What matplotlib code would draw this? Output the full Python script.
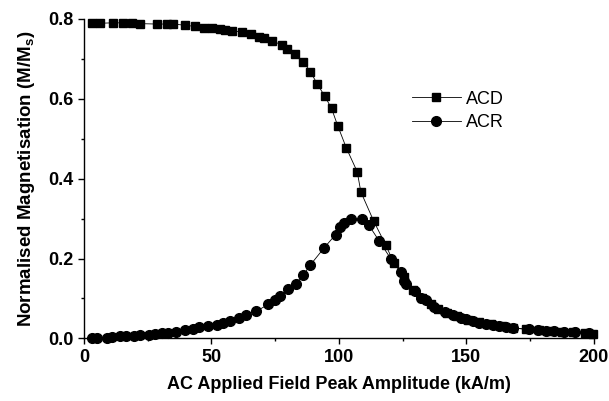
import matplotlib
matplotlib.use("Agg")
import matplotlib.pyplot as plt

plt.rcParams['font.family'] = ['Liberation Sans', 'DejaVu Sans']
plt.rcParams['mathtext.fontset'] = 'custom'
plt.rcParams['mathtext.rm'] = 'Liberation Sans'
plt.rcParams['mathtext.bf'] = 'Liberation Sans:bold'

# ACD series (squares)
acd_x = [3.0, 6.3, 11.2, 15.4, 18.7, 21.9, 28.5, 32.4, 35.0, 39.6, 43.5, 47.0, 50.3, 53.3,
         55.5, 58.1, 61.8, 65.7, 68.5, 70.8, 73.6, 77.6, 79.5, 82.6, 86.0, 88.8, 91.5, 94.4,
         97.1, 99.5, 102.9, 107.2, 108.6, 113.7, 118.3,
         121.5, 125.5, 129.0, 132.5, 136.0, 139.0, 142.5, 146.5, 150.5, 155.0, 159.5, 164.0,
         168.5, 173.5, 178.5, 183.0, 187.5, 192.0, 196.5, 199.5]
acd_y = [0.789, 0.789, 0.790, 0.790, 0.789, 0.788, 0.787, 0.787, 0.787, 0.784, 0.781, 0.778,
         0.776, 0.774, 0.772, 0.770, 0.767, 0.762, 0.755, 0.751, 0.745, 0.735, 0.724, 0.711,
         0.693, 0.668, 0.637, 0.607, 0.576, 0.533, 0.477, 0.417, 0.367, 0.293, 0.235,
         0.190, 0.155, 0.122, 0.100, 0.085, 0.074, 0.064, 0.055, 0.047, 0.040, 0.035, 0.030,
         0.026, 0.023, 0.020, 0.018, 0.016, 0.015, 0.013, 0.012]

# ACR series (circles)
acr_x = [3.0, 5.2, 8.9, 10.8, 14.1, 16.5, 19.6, 21.9, 25.6, 27.8, 30.4, 33.0, 36.0, 39.6,
         42.6, 45.2, 48.7, 52.0, 54.6, 57.2, 60.8, 63.5, 67.6, 72.2, 74.8, 76.8, 80.0, 83.0,
         85.9, 88.8, 94.1, 98.7, 100.5, 102.0, 104.6, 109.0, 111.8, 115.9, 120.3, 124.4,
         125.7, 126.4, 129.7, 132.3, 134.0, 137.5, 141.8, 144.7, 147.9, 149.9, 152.5, 155.1,
         157.7, 160.3, 162.9, 165.6, 168.2, 174.7, 178.0, 181.2, 184.5, 188.4, 192.7, 198.2]
acr_y = [0.0, 0.0, 0.002, 0.003, 0.005, 0.006, 0.007, 0.008, 0.009, 0.011, 0.013, 0.014,
         0.016, 0.020, 0.023, 0.028, 0.031, 0.034, 0.038, 0.043, 0.051, 0.059, 0.068, 0.085,
         0.095, 0.107, 0.124, 0.137, 0.158, 0.184, 0.226, 0.260, 0.279, 0.289, 0.298, 0.298,
         0.283, 0.243, 0.200, 0.166, 0.145, 0.137, 0.118, 0.100, 0.095, 0.079, 0.066, 0.058,
         0.052, 0.048, 0.044, 0.039, 0.037, 0.034, 0.031, 0.028, 0.026, 0.023, 0.020, 0.018,
         0.018, 0.016, 0.015, 0.013]

fig = plt.figure(figsize=(6.09, 4.01), dpi=100)
ax = fig.add_axes([0.138, 0.156, 0.837, 0.797])

ax.plot(acd_x, acd_y, color='black', lw=0.6, marker='s', ms=5.5, clip_on=False, label='ACD')
ax.plot(acr_x, acr_y, color='black', lw=0.6, marker='o', ms=7, clip_on=False, label='ACR')

ax.set_xlim(0, 200)
ax.set_ylim(0, 0.8)
ax.set_xticks([0, 50, 100, 150, 200])
ax.set_xticks([25, 75, 125, 175], minor=True)
ax.set_yticks([0.0, 0.2, 0.4, 0.6, 0.8])
ax.set_yticks([0.1, 0.3, 0.5, 0.7], minor=True)
ax.set_yticklabels(['0.0', '0.2', '0.4', '0.6', '0.8'])

for s in ['top', 'right']:
    ax.spines[s].set_visible(False)
for s in ['left', 'bottom']:
    ax.spines[s].set_linewidth(1.0)
ax.tick_params(which='major', direction='out', length=4, width=1.0, labelsize=13)
ax.tick_params(which='minor', direction='out', length=2.5, width=1.0)
for t in ax.get_xticklabels() + ax.get_yticklabels():
    t.set_fontweight('bold')

ax.set_xlabel('AC Applied Field Peak Amplitude (kA/m)', fontsize=13, fontweight='bold')
ax.set_ylabel(r'Normalised Magnetisation (M/M$_\mathbf{s}$)', fontsize=13.5, fontweight='bold')
ax.xaxis.set_label_coords(0.5, -0.118)
ax.yaxis.set_label_coords(-0.092, 0.5)

ax.legend(loc='upper left', bbox_to_anchor=(0.643, 0.775), frameon=False, fontsize=13,
          handlelength=2.7, handletextpad=0.3, labelspacing=0.35, borderpad=0, borderaxespad=0)

fig.savefig('out.png', dpi=100)
